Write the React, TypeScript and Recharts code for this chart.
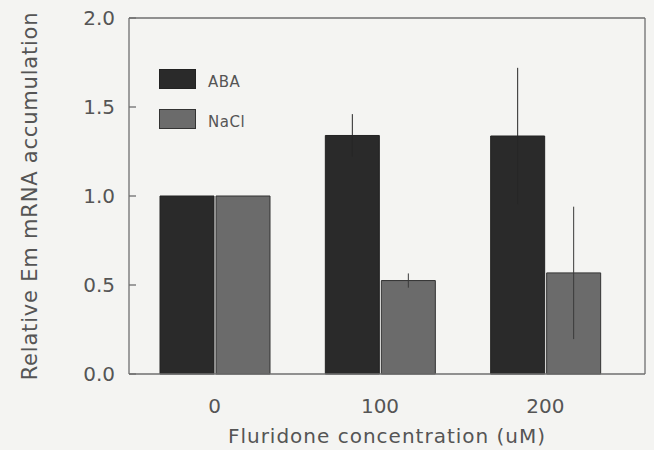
import { BarChart, Bar, XAxis, YAxis, ErrorBar, Legend } from "recharts";

const concentrations = ["0", "100", "200"];
const abaValues = [1.0, 1.34, 1.337];
const abaErrors = [0, 0.12, 0.383];
const naclValues = [1.0, 0.525, 0.568];
const naclErrors = [0, 0.04, 0.372];
const yTicks = [0, 0.5, 1, 1.5, 2];

const data = concentrations.map((c, i) => ({
	conc: c,
	aba: abaValues[i],
	abaErr: abaErrors[i],
	nacl: naclValues[i],
	naclErr: naclErrors[i],
}));

const FONT = "'DejaVu Sans', sans-serif";
const TEXT = "#555";
const AXIS = "#6f6f6f";
const ABA_FILL = "#2a2a2a";
const NACL_FILL = "#6b6b6b";

function YTick(props: any) {
	const { x, y, payload } = props;
	const axisX = x + 14;
	return (
		<g>
			<text x={x} y={y} dy="0.36em" textAnchor="end" fill={TEXT} fontSize={20} fontFamily={FONT}>
				{Number(payload.value).toFixed(1)}
			</text>
			<line x1={axisX} x2={axisX + 7} y1={y} y2={y} stroke={AXIS} strokeWidth={1.3} />
		</g>
	);
}

function LegendBox() {
	const rows = [
		{ name: "ABA", fill: ABA_FILL, stroke: "#222" },
		{ name: "NaCl", fill: NACL_FILL, stroke: "#333" },
	];
	return (
		<div style={{ fontFamily: FONT, fontSize: 15, color: TEXT }}>
			{rows.map((r, i) => (
				<div key={r.name} style={{ display: "flex", alignItems: "center", height: 20, marginTop: i ? 20 : 0 }}>
					<div style={{ width: 35, height: 18, background: r.fill, border: `1px solid ${r.stroke}` }} />
					<span style={{ marginLeft: 12, marginTop: 6, letterSpacing: 0.5 }}>{r.name}</span>
				</div>
			))}
		</div>
	);
}

export default function App() {
	return (
		<div style={{ position: "absolute", left: 0, top: 0, width: 654, height: 450, background: "#f4f4f2" }}>
			<BarChart
				width={654}
				height={450}
				data={data}
				margin={{ top: 17, right: 8, bottom: 0, left: 0 }}
				barSize={54}
				barGap={2}
			>
				<XAxis
					dataKey="conc"
					height={76}
					padding={{ left: 3, right: 17 }}
					tickLine={false}
					tickSize={0}
					tickMargin={25}
					axisLine={{ stroke: AXIS, strokeWidth: 1.3 }}
					tick={{ fill: TEXT, fontSize: 20, fontFamily: FONT }}
					label={{
						content: (p: any) => {
							const vb = p.viewBox;
							return (
								<text x={vb.x + vb.width / 2} y={436} dy="0.36em" textAnchor="middle" fill={TEXT} fontSize={20} letterSpacing={1} fontFamily={FONT}>
									Fluridone concentration (uM)
								</text>
							);
						},
					}}
				/>
				<XAxis xAxisId="top" dataKey="conc" orientation="top" height={1} tick={false} tickLine={false} axisLine={{ stroke: AXIS, strokeWidth: 1.3 }} />
				<YAxis
					width={129}
					domain={[0, 2]}
					ticks={yTicks}
					tickLine={false}
					tickSize={0}
					tickMargin={14}
					axisLine={{ stroke: AXIS, strokeWidth: 1.3 }}
					tick={<YTick />}
					label={{
						content: (p: any) => {
							const vb = p.viewBox;
							const cy = vb.y + vb.height / 2;
							return (
								<text x={29} y={cy} dy="0.36em" textAnchor="middle" transform={`rotate(-90 29 ${cy})`} fill={TEXT} fontSize={21} letterSpacing={0.8} fontFamily={FONT}>
									Relative Em mRNA accumulation
								</text>
							);
						},
					}}
				/>
				<YAxis yAxisId="right" orientation="right" width={1} tick={false} tickLine={false} axisLine={{ stroke: AXIS, strokeWidth: 1.3 }} />
				<Legend
					layout="horizontal"
					verticalAlign="middle"
					align="center"
					content={<LegendBox />}
					wrapperStyle={{ left: 159, top: 69, width: 120, height: 70 }}
				/>
				<Bar dataKey="aba" name="ABA" fill={ABA_FILL} stroke="#222" strokeWidth={1} isAnimationActive={false}>
					<ErrorBar dataKey="abaErr" width={0} stroke="#262626" strokeWidth={1} direction="y" />
				</Bar>
				<Bar dataKey="nacl" name="NaCl" fill={NACL_FILL} stroke="#333" strokeWidth={1} isAnimationActive={false}>
					<ErrorBar dataKey="naclErr" width={0} stroke="#3a3a3a" strokeWidth={1} direction="y" />
				</Bar>
			</BarChart>
		</div>
	);
}
